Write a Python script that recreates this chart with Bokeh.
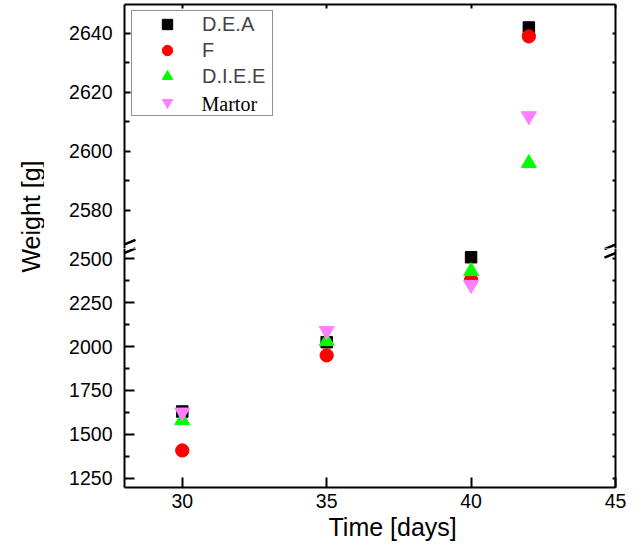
import math
from bokeh.plotting import figure
from bokeh.layouts import row, column
from bokeh.models import (Range1d, LinearAxis, FixedTicker, Legend, LegendItem, Label, Title,
                          PolyAnnotation, CustomJSTickFormatter)
from bokeh.embed import file_html
from bokeh.resources import INLINE

# ---------------- data ----------------
days = [30, 35, 40, 42]
dea = [1630, 2025, 2509, 2642]
f_vals = [1408, 1950, 2380, 2639]
diee = [1580, 2030, 2429, 2596]
martor = [1625, 2090, 2352, 2612]
series_names = ["D.E.A", "F", "D.I.E.E", "Martor"]

x_ticks = [30, 35, 40, 45]
upper_ticks = [2580, 2600, 2620, 2640]
upper_minor = [2590, 2610, 2630]
upper_right_ticks = [2580, 2590, 2600, 2610, 2620, 2630, 2640]
lower_ticks = [1250, 1500, 1750, 2000, 2250, 2500]
lower_minor = [1375, 1625, 1875, 2125, 2375]
lower_right_ticks = sorted(lower_ticks + lower_minor)

# ---------------- layout / style ----------------
FONT = "Liberation Sans"
SERIF = "Liberation Serif"
TICK_FS = "19.5px"
X0, X1 = 28, 45
U0, U1 = 2567.1, 2649.8
L0, L1 = 1197, 2558.7
TOTAL_H = 542
LABEL_W = 44
MAIN_W = 582
TOP_H = 248
LOW_H = TOTAL_H - TOP_H
BORDER_L = 80
BORDER_R = 11
TOP_BORDER = 4
LOW_BORDER_B = 55

FRAME_L = LABEL_W + BORDER_L
FRAME_R = LABEL_W + MAIN_W - BORDER_R
TOP_FRAME_T = TOP_BORDER
TOP_FRAME_B = TOP_H
LOW_FRAME_T = TOP_H
LOW_FRAME_B = TOP_H + LOW_H - LOW_BORDER_B

x_range = Range1d(X0, X1)


def style_axis(ax, tick_in, minor_in=0, labels=True):
    ax.axis_line_width = 2
    ax.axis_line_color = "black"
    ax.major_tick_in = tick_in
    ax.major_tick_out = 0
    ax.major_tick_line_width = 2
    ax.major_tick_line_color = "black"
    ax.minor_tick_in = minor_in
    ax.minor_tick_out = 0
    ax.minor_tick_line_width = 2
    ax.minor_tick_line_color = "black"
    if labels:
        ax.major_label_text_font = FONT
        ax.major_label_text_font_size = TICK_FS
        ax.major_label_text_color = "black"
    else:
        ax.formatter = CustomJSTickFormatter(code="return ''")
        ax.major_label_text_font_size = "0px"
        ax.major_label_standoff = 0


def add_points(p):
    r1 = p.scatter(days, dea, marker="square", size=11.5, color="black")
    r2 = p.scatter(days, f_vals, marker="circle", size=13.3, color="#FF0000")
    r3 = p.scatter(days, diee, marker="triangle", size=15, color="#00FF00")
    r4 = p.scatter(days, martor, marker="inverted_triangle", size=15, color="#FF80FF")
    return [r1, r2, r3, r4]


def px_x(px):
    return X0 + (px - FRAME_L) * (X1 - X0) / (FRAME_R - FRAME_L)


def top_y(py):
    return U1 - (py - TOP_FRAME_T) * (U1 - U0) / (TOP_FRAME_B - TOP_FRAME_T)


def low_y(py):
    return L1 - (py - LOW_FRAME_T) * (L1 - L0) / (LOW_FRAME_B - LOW_FRAME_T)


def add_break_marks(p, ymap):
    for cx in (FRAME_L, FRAME_R):
        for cy in (TOP_H - 4.0, TOP_H + 4.5):
            xs = [px_x(cx - 11), px_x(cx + 11)]
            ys = [ymap(cy + 4.6), ymap(cy - 4.6)]
            p.add_layout(PolyAnnotation(xs=xs, ys=ys, xs_units="data", ys_units="data",
                                        fill_color=None, fill_alpha=0,
                                        line_color="black", line_alpha=1.0, line_width=2.5))


# ---------------- top panel ----------------
top = figure(width=MAIN_W, height=TOP_H, x_range=x_range, y_range=Range1d(U0, U1),
             x_axis_location="above", output_backend="svg", toolbar_location=None,
             min_border_left=BORDER_L, min_border_right=BORDER_R,
             min_border_top=TOP_BORDER, min_border_bottom=0)
top.outline_line_color = None
top.grid.visible = False
top_r = add_points(top)
top.xaxis.ticker = FixedTicker(ticks=x_ticks)
style_axis(top.xaxis[0], 4, labels=False)
top.yaxis.ticker = FixedTicker(ticks=upper_ticks, minor_ticks=upper_minor)
style_axis(top.yaxis[0], 6, 5)
top.yaxis.major_label_standoff = 12
rax = LinearAxis(ticker=FixedTicker(ticks=upper_right_ticks))
style_axis(rax, 3, labels=False)
top.add_layout(rax, "right")

legend_labels = ["D.E.A", "F", "D.I.E.E", " "]
legend = Legend(items=[LegendItem(label=n, renderers=[r]) for n, r in zip(legend_labels, top_r)],
                location=(7, 132), margin=0, padding=0, spacing=0,
                glyph_width=70, glyph_height=26, label_height=26, label_width=70,
                label_standoff=0, border_line_color="#222222", border_line_width=1.5,
                background_fill_alpha=0.0,
                label_text_font=FONT, label_text_font_size="20px")
top.add_layout(legend)
top.add_layout(Label(x=77, y=145, x_units="screen", y_units="screen", text=series_names[3],
                     text_font=SERIF, text_font_size="20px", text_baseline="middle",
                     text_align="left", text_color="black"))
add_break_marks(top, top_y)

# ---------------- lower panel ----------------
low = figure(width=MAIN_W, height=LOW_H, x_range=x_range, y_range=Range1d(L0, L1),
             output_backend="svg", toolbar_location=None,
             min_border_left=BORDER_L, min_border_right=BORDER_R,
             min_border_top=0, min_border_bottom=LOW_BORDER_B)
low.outline_line_color = None
low.grid.visible = False
add_points(low)
low.xaxis.ticker = FixedTicker(ticks=x_ticks)
style_axis(low.xaxis[0], 10)
low.xaxis.major_label_standoff = 6
low.yaxis.ticker = FixedTicker(ticks=lower_ticks, minor_ticks=lower_minor)
style_axis(low.yaxis[0], 10, 5)
low.yaxis.major_label_standoff = 12
rax2 = LinearAxis(ticker=FixedTicker(ticks=lower_right_ticks))
style_axis(rax2, 3, labels=False)
low.add_layout(rax2, "right")
low.add_layout(Title(text="Time [days]", align="left", offset=204, standoff=0,
                     vertical_align="bottom", text_font=FONT, text_font_size="25px",
                     text_font_style="normal", text_color="black"), "below")
add_break_marks(low, low_y)

# ---------------- y title ----------------
lab = figure(width=LABEL_W, height=TOTAL_H, x_range=Range1d(0, 1), y_range=Range1d(0, 1),
             x_axis_location=None, y_axis_location=None, min_border=0,
             output_backend="svg", toolbar_location=None)
lab.outline_line_color = None
lab.grid.visible = False
lab.add_layout(Label(x=30, y=TOTAL_H - 216, x_units="screen", y_units="screen", text="Weight [g]",
                     angle=math.pi / 2, text_font=FONT, text_font_size="25px",
                     text_baseline="middle", text_align="center", text_color="black"))

layout = row(lab, column(top, low))
open("out.html", "w").write(file_html(layout, INLINE))
